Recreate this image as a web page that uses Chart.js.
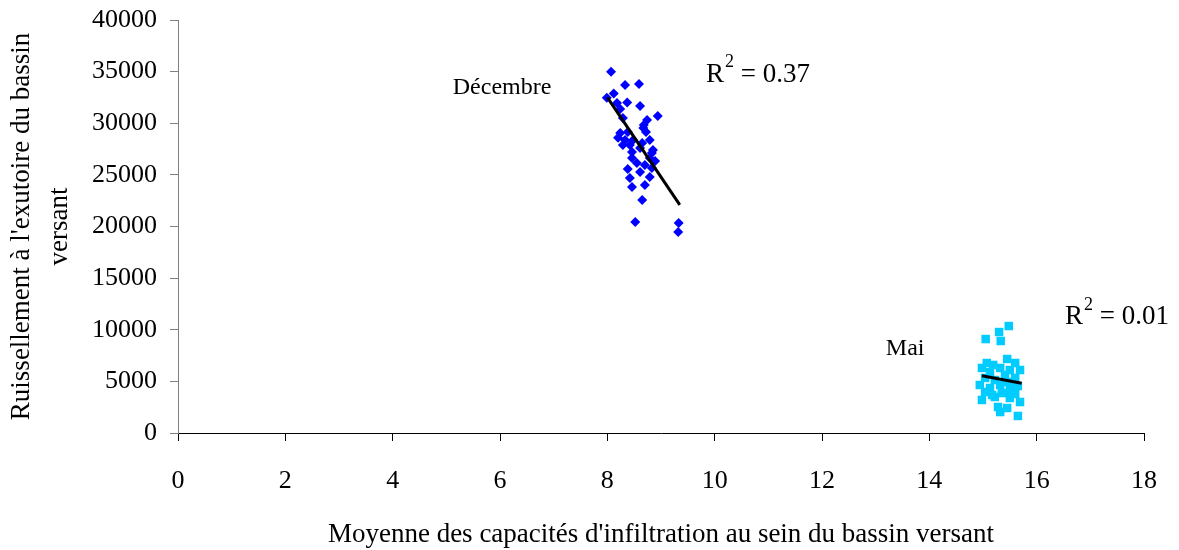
<!DOCTYPE html>
<html>
<head>
<meta charset="utf-8">
<script src="https://cdn.jsdelivr.net/npm/chart.js@4"></script>
<style>
  html, body { margin: 0; padding: 0; background: #fff; }
  #wrap { width: 1179px; height: 550px; }
</style>
</head>
<body>
<div id="wrap"><canvas id="myChart"></canvas></div>
<script>
// Décembre: capacité moyenne d'infiltration / ruissellement
const dec_x = [8.07, 8.33, 8.59, 8.12, 7.99, 8.37, 8.61, 8.18, 8.24, 8.94, 8.29, 8.74, 8.68, 8.67, 8.24,
               8.38, 8.72, 8.33, 8.79, 8.65, 8.42, 8.29, 8.48, 8.61, 8.85, 8.46, 8.83, 8.79, 8.46, 8.89,
               8.55, 8.70, 8.83, 8.38, 8.61, 8.42, 8.79, 8.46, 8.70, 8.65, 8.52, 9.33, 9.32, 8.20];
const dec_y = [35000, 33700, 33800, 32870, 32480, 32000, 31670, 31960, 31380, 30700, 30510, 30320, 29830, 29540, 29050,
               29150, 29150, 28380, 28380, 28090, 27890, 27890, 28380, 27600, 27410, 27220, 27120, 26630, 26630, 26340,
               26150, 25960, 25660, 25570, 25280, 24700, 24790, 23830, 24020, 22570, 20440, 20340, 19470, 28600];

// Mai
const mai_x = [15.48, 15.30, 15.05, 15.33, 15.45, 15.60, 15.07, 15.19, 14.98, 15.32, 15.50, 15.69, 15.13, 15.41, 15.04,
               15.60, 15.22, 15.47, 14.94, 15.32, 15.65, 15.13, 15.50, 15.04, 15.35, 15.60, 15.22, 14.98, 15.50, 15.69,
               15.28, 15.45, 15.32, 15.65, 15.17, 15.54];
const mai_y = [10360, 9780, 9100, 8910, 7170, 6780, 6780, 6590, 6300, 6300, 6100, 6100, 5900, 5620, 5330,
               5330, 5130, 4940, 4650, 4650, 4550, 4360, 4160, 3970, 3870, 3780, 3490, 3200, 3390, 3000,
               2520, 2420, 2030, 1650, 3680, 4750];

// droites de tendance (extrémités)
const dec_trend_x = [8.0, 9.35];
const dec_trend_y = [32500, 22100];
const mai_trend_x = [14.98, 15.72];
const mai_trend_y = [5550, 4810];

const x_ticks = [0, 2, 4, 6, 8, 10, 12, 14, 16, 18];
const y_ticks = [0, 5000, 10000, 15000, 20000, 25000, 30000, 35000, 40000];

const annotations = [
    { x: 5.12, y: 33400, text: 'Décembre', size: 24 },
    { x: 9.84, y: 34700, text: 'R', sup: '2', rest: ' = 0.37', size: 27 },
    { x: 13.19, y: 8135, text: 'Mai', size: 24 },
    { x: 16.53, y: 11200, text: 'R', sup: '2', rest: ' = 0.01', size: 27 }
];

const toPoints = (xs, ys) => xs.map((x, i) => ({ x: x, y: ys[i] }));

const serif = "'Liberation Serif', 'DejaVu Serif', serif";

const labelsPlugin = {
    id: 'labelsPlugin',
    afterDatasetsDraw(chart) {
        const { ctx, scales } = chart;
        ctx.save();
        ctx.fillStyle = '#000';
        ctx.textBaseline = 'middle';
        ctx.textAlign = 'left';
        annotations.forEach(a => {
            let px = scales.x.getPixelForValue(a.x);
            const py = scales.y.getPixelForValue(a.y);
            ctx.font = a.size + 'px ' + serif;
            ctx.fillText(a.text, px, py);
            if (a.sup) {
                px += ctx.measureText(a.text).width + 1;
                ctx.font = Math.round(a.size * 0.65) + 'px ' + serif;
                ctx.fillText(a.sup, px, py - a.size * 0.45);
                px += ctx.measureText(a.sup).width;
                ctx.font = a.size + 'px ' + serif;
                ctx.fillText(a.rest, px, py);
            }
        });
        ctx.restore();
    }
};

const ctx = document.getElementById('myChart');

new Chart(ctx, {
    type: 'scatter',
    data: {
        datasets: [
            // les droites d'abord pour qu'elles passent au-dessus des points
            {
                label: 'tendance Décembre',
                data: toPoints(dec_trend_x, dec_trend_y),
                showLine: true,
                pointRadius: 0,
                borderColor: '#000',
                borderWidth: 3
            },
            {
                label: 'tendance Mai',
                data: toPoints(mai_trend_x, mai_trend_y),
                showLine: true,
                pointRadius: 0,
                borderColor: '#000',
                borderWidth: 3
            },
            {
                label: 'Décembre',
                data: toPoints(dec_x, dec_y),
                pointStyle: 'rectRot',
                pointRadius: 5,
                backgroundColor: '#0000ff',
                borderColor: '#0000ff',
                borderWidth: 0
            },
            {
                label: 'Mai',
                data: toPoints(mai_x, mai_y),
                pointStyle: 'rect',
                pointRadius: 6,
                backgroundColor: '#00ccff',
                borderColor: '#00ccff',
                borderWidth: 0
            }
        ]
    },
    options: {
        responsive: true,
        maintainAspectRatio: false,
        animation: false,
        layout: { padding: { top: 20, right: 35, left: 0, bottom: 0 } },
        plugins: {
            legend: { display: false },
            tooltip: { enabled: false }
        },
        scales: {
            x: {
                type: 'linear',
                min: 0,
                max: 18,
                afterBuildTicks: axis => { axis.ticks = x_ticks.map(v => ({ value: v })); },
                afterFit: axis => {
                    axis.height = 117;
                    axis.paddingLeft = 0;
                    axis.paddingRight = 0;
                },
                border: { display: true, color: '#000', width: 1 },
                grid: { drawOnChartArea: false, drawTicks: true, tickLength: 8, color: '#000' },
                ticks: {
                    color: '#000',
                    padding: 25,
                    maxRotation: 0,
                    callback: v => String(v),
                    font: { family: serif, size: 26 }
                },
                title: {
                    display: true,
                    text: "Moyenne des capacités d'infiltration au sein du bassin versant",
                    color: '#000',
                    padding: { top: 0, bottom: 1.5 },
                    font: { family: serif, size: 27, lineHeight: 1.0 }
                }
            },
            y: {
                type: 'linear',
                min: 0,
                max: 40000,
                afterBuildTicks: axis => { axis.ticks = y_ticks.map(v => ({ value: v })); },
                afterFit: axis => {
                    axis.width = 178;
                    axis.paddingTop = 0;
                    axis.paddingBottom = 0;
                },
                border: { display: true, color: '#808080', width: 1 },
                grid: { drawOnChartArea: false, drawTicks: true, tickLength: 8, color: '#808080' },
                ticks: {
                    color: '#000',
                    padding: 13,
                    callback: v => String(v),
                    font: { family: serif, size: 26 }
                },
                title: {
                    display: true,
                    text: ["Ruissellement à l'exutoire du bassin", 'versant'],
                    color: '#000',
                    padding: { top: 3, bottom: 0 },
                    font: { family: serif, size: 27, lineHeight: 1.41 }
                }
            }
        }
    },
    plugins: [labelsPlugin]
});
</script>
</body>
</html>
